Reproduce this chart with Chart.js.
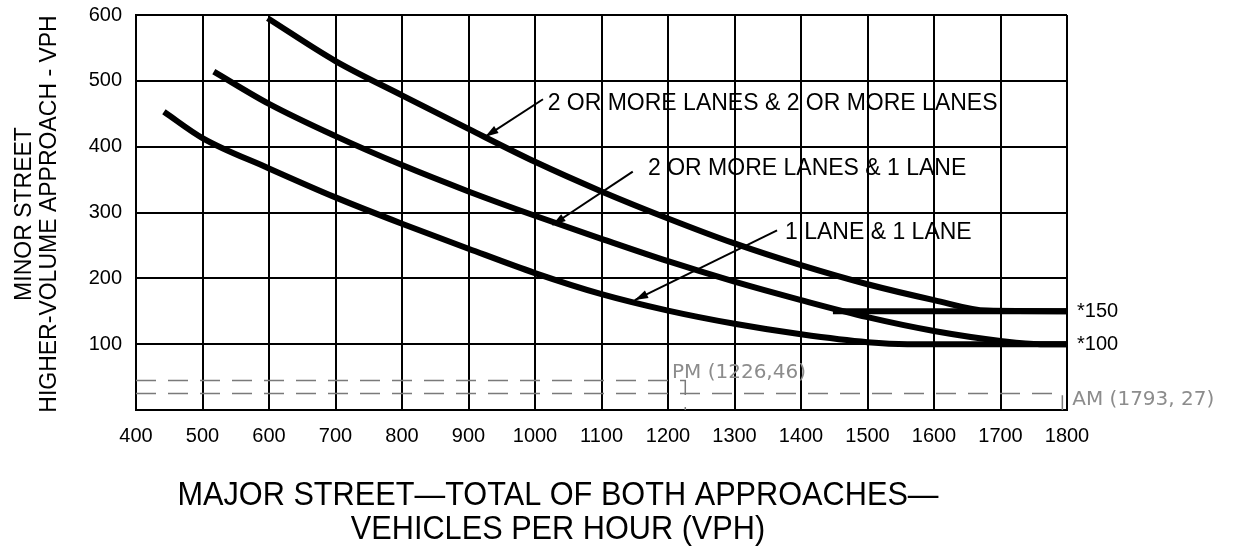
<!DOCTYPE html>
<html>
<head>
<meta charset="utf-8">
<script src="https://cdn.jsdelivr.net/npm/chart.js@4.4.0/dist/chart.umd.min.js"></script>
<style>
  body { margin: 0; background: #fff; }
  #wrap { width: 1238px; height: 551px; }
</style>
</head>
<body>
<div id="wrap"><canvas id="chart" width="1238" height="551"></canvas></div>
<script>
// major street volume (x) and minor street volume (y)
const twoTwoX = [598, 700, 800, 900, 1000, 1100, 1200, 1300, 1400, 1500, 1600, 1680, 1800];
const twoTwoY = [595, 530, 478, 427, 377, 332, 291, 253, 220, 191, 167, 151, 150];

const twoOneX = [517, 600, 700, 800, 900, 1000, 1100, 1200, 1300, 1400, 1500, 1600, 1700, 1760, 1800];
const twoOneY = [514, 465, 416, 372, 332, 295, 260, 226, 195, 167, 141, 120, 105, 100, 100];

const oneOneX = [442, 500, 600, 700, 800, 900, 1000, 1100, 1200, 1300, 1400, 1500, 1560, 1800];
const oneOneY = [453, 413, 367, 323, 283, 245, 208, 176, 151, 131, 115, 103, 100, 100];

// lower threshold line for two-lane minor approach
const limit150X = [1448, 1800];
const limit150Y = [150, 150];

// observed peak hour points (hand notes)
const pmX = [400, 1226, 1226];
const pmY = [45, 45, 0];
const amX = [400, 1793, 1793];
const amY = [25, 25, 0];

const xMin = 400, xMax = 1800, yMin = 0, yMax = 600;

// curve labels: text, text anchor, arrow start, arrow tip (data units)
const curveLabels = [
  { text: "2 OR MORE LANES & 2 OR MORE LANES", at: [1019, 466], from: [1012, 472], to: [925, 415] },
  { text: "2 OR MORE LANES & 1 LANE", at: [1170, 367], from: [1147, 362], to: [1026, 281] },
  { text: "1 LANE & 1 LANE", at: [1376, 269], from: [1364, 273], to: [1150, 167] }
];
const thresholdLabels = [["*150", 150], ["*100", 100]];
const handNotes = [
  { text: "PM (1226,46)", at: [1206, 49] },
  { text: "AM (1793, 27)", at: [1808, 8] }
];

const yTitle = ["MINOR STREET", "HIGHER-VOLUME APPROACH - VPH"];
const xTitle = ["MAJOR STREET\u2014TOTAL OF BOTH APPROACHES\u2014", "VEHICLES PER HOUR (VPH)"];

function pts(xs, ys) {
  return xs.map((x, i) => ({ x: x, y: ys[i] }));
}

const FONT = "'Liberation Sans', Arial, Helvetica, sans-serif";

const curve = (data) => ({
  data: data,
  borderColor: "#000",
  borderWidth: 6,
  pointRadius: 0,
  fill: false,
  cubicInterpolationMode: "monotone",
  borderCapStyle: "butt"
});

const dashed = (data) => ({
  data: data,
  borderColor: "#7a7a7a",
  borderWidth: 1.5,
  borderDash: [20, 12],
  pointRadius: 0,
  fill: false,
  tension: 0
});

// draws the labels, arrows, axis titles and notes
const extras = {
  id: "extras",
  afterDraw(chart) {
    const ctx = chart.ctx;
    const xs = chart.scales.x, ys = chart.scales.y;
    const px = v => xs.getPixelForValue(v);
    const py = v => ys.getPixelForValue(v);
    ctx.save();

    // curve labels with arrows
    ctx.fillStyle = "#000";
    ctx.strokeStyle = "#000";
    ctx.font = "23px " + FONT;
    ctx.textBaseline = "middle";
    ctx.textAlign = "left";
    curveLabels.forEach(l => {
      ctx.fillText(l.text, px(l.at[0]), py(l.at[1]));
      const x1 = px(l.from[0]), y1 = py(l.from[1]);
      const x2 = px(l.to[0]), y2 = py(l.to[1]);
      ctx.lineWidth = 2;
      ctx.beginPath();
      ctx.moveTo(x1, y1);
      ctx.lineTo(x2, y2);
      ctx.stroke();
      const a = Math.atan2(y2 - y1, x2 - x1);
      ctx.beginPath();
      ctx.moveTo(x2, y2);
      ctx.lineTo(x2 - 14 * Math.cos(a - 0.3), y2 - 14 * Math.sin(a - 0.3));
      ctx.lineTo(x2 - 14 * Math.cos(a + 0.3), y2 - 14 * Math.sin(a + 0.3));
      ctx.closePath();
      ctx.fill();
    });

    // threshold notes right of plot
    ctx.font = "20px " + FONT;
    thresholdLabels.forEach(t => {
      ctx.fillText(t[0], chart.chartArea.right + 10, py(t[1]));
    });

    // hand written notes
    ctx.fillStyle = "#8c8c8c";
    ctx.font = "20px 'DejaVu Sans', sans-serif";
    ctx.textBaseline = "alphabetic";
    handNotes.forEach(n => {
      ctx.fillText(n.text, px(n.at[0]), py(n.at[1]));
    });

    // y title (rotated, two lines)
    ctx.fillStyle = "#000";
    ctx.font = "23px " + FONT;
    ctx.textAlign = "center";
    ctx.textBaseline = "middle";
    ctx.save();
    ctx.translate(25, 214);
    ctx.rotate(-Math.PI / 2);
    ctx.fillText(yTitle[0], 0, 0);
    ctx.fillText(yTitle[1], 0, 25);
    ctx.restore();

    // x title (slightly narrow face)
    ctx.font = "33px " + FONT;
    [496, 530].forEach((yy, i) => {
      ctx.save();
      ctx.translate(558, yy);
      ctx.scale(0.93, 1);
      ctx.fillText(xTitle[i], 0, 0);
      ctx.restore();
    });
    ctx.restore();
  }
};

const tickFont = { size: 20, family: FONT };

new Chart(document.getElementById("chart"), {
  type: "line",
  data: {
    datasets: [
      curve(pts(twoTwoX, twoTwoY)),
      curve(pts(twoOneX, twoOneY)),
      curve(pts(oneOneX, oneOneY)),
      curve(pts(limit150X, limit150Y)),
      dashed(pts(pmX, pmY)),
      dashed(pts(amX, amY))
    ]
  },
  options: {
    responsive: false,
    animation: false,
    layout: { padding: { top: 15, right: 171, bottom: 0, left: 0 } },
    plugins: { legend: { display: false }, tooltip: { enabled: false } },
    scales: {
      x: {
        type: "linear",
        min: xMin,
        max: xMax,
        afterFit: s => { s.height = 141; s.paddingLeft = 0; s.paddingRight = 0; },
        ticks: { stepSize: 100, color: "#000", padding: 14, font: tickFont, callback: v => String(v) },
        grid: { color: "#000", lineWidth: 2, drawTicks: false },
        border: { color: "#000", width: 2 }
      },
      y: {
        type: "linear",
        min: yMin,
        max: yMax,
        afterFit: s => { s.width = 136; s.paddingTop = 0; s.paddingBottom = 0; },
        ticks: { stepSize: 100, color: "#000", padding: 14, font: tickFont, callback: v => (v === 0 ? "" : String(v)) },
        grid: { color: "#000", lineWidth: 2, drawTicks: false },
        border: { color: "#000", width: 2 }
      }
    }
  },
  plugins: [extras]
});
</script>
</body>
</html>
